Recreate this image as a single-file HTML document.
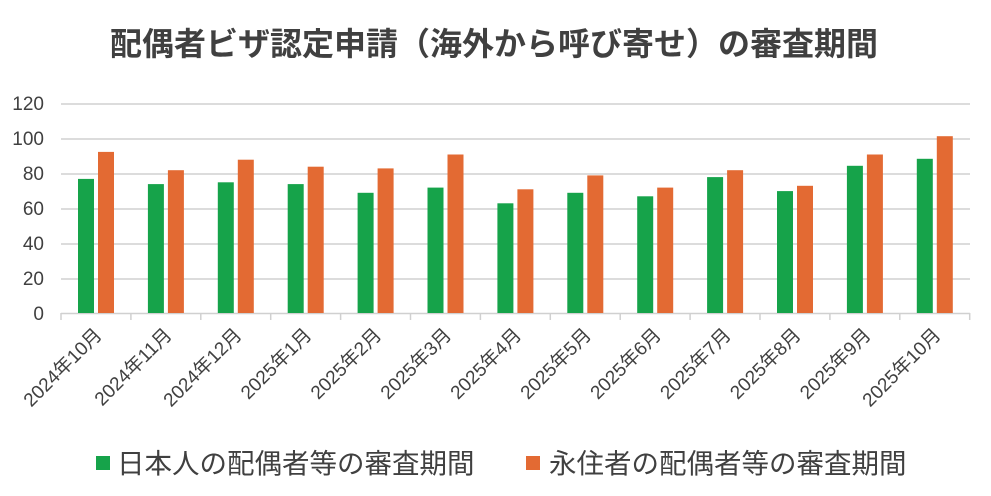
<!DOCTYPE html><html><head><meta charset="utf-8"><style>body{margin:0;background:#fff}</style></head><body>
<svg width="991" height="491" xmlns="http://www.w3.org/2000/svg" font-family="Liberation Sans, Noto Sans CJK JP, sans-serif">
<text x="494" y="55" text-anchor="middle" font-size="32" font-weight="bold" fill="#404040">配偶者ビザ認定申請（海外から呼び寄せ）の審査期間</text>
<g stroke="#d0d0d0" stroke-width="1.5">
<line x1="61" x2="970" y1="104" y2="104"/><line x1="61" x2="970" y1="139" y2="139"/><line x1="61" x2="970" y1="174" y2="174"/><line x1="61" x2="970" y1="209" y2="209"/><line x1="61" x2="970" y1="244" y2="244"/><line x1="61" x2="970" y1="279" y2="279"/><line x1="61" x2="970" y1="313.5" y2="313.5"/>
<line x1="61" x2="61" y1="313" y2="320"/><line x1="130.9" x2="130.9" y1="313" y2="320"/><line x1="200.8" x2="200.8" y1="313" y2="320"/><line x1="270.7" x2="270.7" y1="313" y2="320"/><line x1="340.6" x2="340.6" y1="313" y2="320"/><line x1="410.5" x2="410.5" y1="313" y2="320"/><line x1="480.4" x2="480.4" y1="313" y2="320"/><line x1="550.3" x2="550.3" y1="313" y2="320"/><line x1="620.2" x2="620.2" y1="313" y2="320"/><line x1="690.1" x2="690.1" y1="313" y2="320"/><line x1="760" x2="760" y1="313" y2="320"/><line x1="829.9" x2="829.9" y1="313" y2="320"/><line x1="899.8" x2="899.8" y1="313" y2="320"/><line x1="969.7" x2="969.7" y1="313" y2="320"/>
</g>
<g font-size="19" fill="#404040" text-anchor="end">
<text x="44" y="110">120</text><text x="44" y="145">100</text><text x="44" y="180">80</text><text x="44" y="215">60</text><text x="44" y="250">40</text><text x="44" y="285">20</text><text x="44" y="320">0</text>
</g>
<g transform="translate(0,313) scale(1,-1)">
<g fill="#16a34a">
<rect x="78" y="0" width="16" height="134.1"/><rect x="147.9" y="0" width="16" height="128.9"/><rect x="217.8" y="0" width="16" height="130.7"/><rect x="287.7" y="0" width="16" height="128.9"/><rect x="357.6" y="0" width="16" height="120.2"/><rect x="427.5" y="0" width="16" height="125.4"/><rect x="497.4" y="0" width="16" height="109.7"/><rect x="567.3" y="0" width="16" height="120.2"/><rect x="637.2" y="0" width="16" height="116.7"/><rect x="707.1" y="0" width="16" height="135.9"/><rect x="777" y="0" width="16" height="121.9"/><rect x="846.9" y="0" width="16" height="147.2"/><rect x="916.8" y="0" width="16" height="154.2"/>
</g>
<g fill="#e36a33">
<rect x="98" y="0" width="16" height="161.1"/><rect x="167.9" y="0" width="16" height="142.8"/><rect x="237.8" y="0" width="16" height="153.3"/><rect x="307.7" y="0" width="16" height="146.3"/><rect x="377.6" y="0" width="16" height="144.6"/><rect x="447.5" y="0" width="16" height="158.5"/><rect x="517.4" y="0" width="16" height="123.7"/><rect x="587.3" y="0" width="16" height="137.6"/><rect x="657.2" y="0" width="16" height="125.4"/><rect x="727.1" y="0" width="16" height="142.8"/><rect x="797" y="0" width="16" height="127.2"/><rect x="866.9" y="0" width="16" height="158.5"/><rect x="936.8" y="0" width="16" height="176.8"/>
</g>
</g>
<g font-size="19" fill="#404040" text-anchor="end">
<text transform="translate(103,336) rotate(-45)">2024年10月</text>
<text transform="translate(172.9,336) rotate(-45)">2024年11月</text>
<text transform="translate(242.8,336) rotate(-45)">2024年12月</text>
<text transform="translate(312.7,336) rotate(-45)">2025年1月</text>
<text transform="translate(382.6,336) rotate(-45)">2025年2月</text>
<text transform="translate(452.5,336) rotate(-45)">2025年3月</text>
<text transform="translate(522.4,336) rotate(-45)">2025年4月</text>
<text transform="translate(592.3,336) rotate(-45)">2025年5月</text>
<text transform="translate(662.2,336) rotate(-45)">2025年6月</text>
<text transform="translate(732.1,336) rotate(-45)">2025年7月</text>
<text transform="translate(802,336) rotate(-45)">2025年8月</text>
<text transform="translate(871.9,336) rotate(-45)">2025年9月</text>
<text transform="translate(941.8,336) rotate(-45)">2025年10月</text>
</g>
<rect x="96" y="456" width="14" height="14" fill="#16a34a"/>
<text x="117" y="473" font-size="27.5" fill="#404040">日本人の配偶者等の審査期間</text>
<rect x="526" y="456" width="14" height="14" fill="#e36a33"/>
<text x="549" y="473" font-size="27.5" fill="#404040">永住者の配偶者等の審査期間</text>
</svg></body></html>
